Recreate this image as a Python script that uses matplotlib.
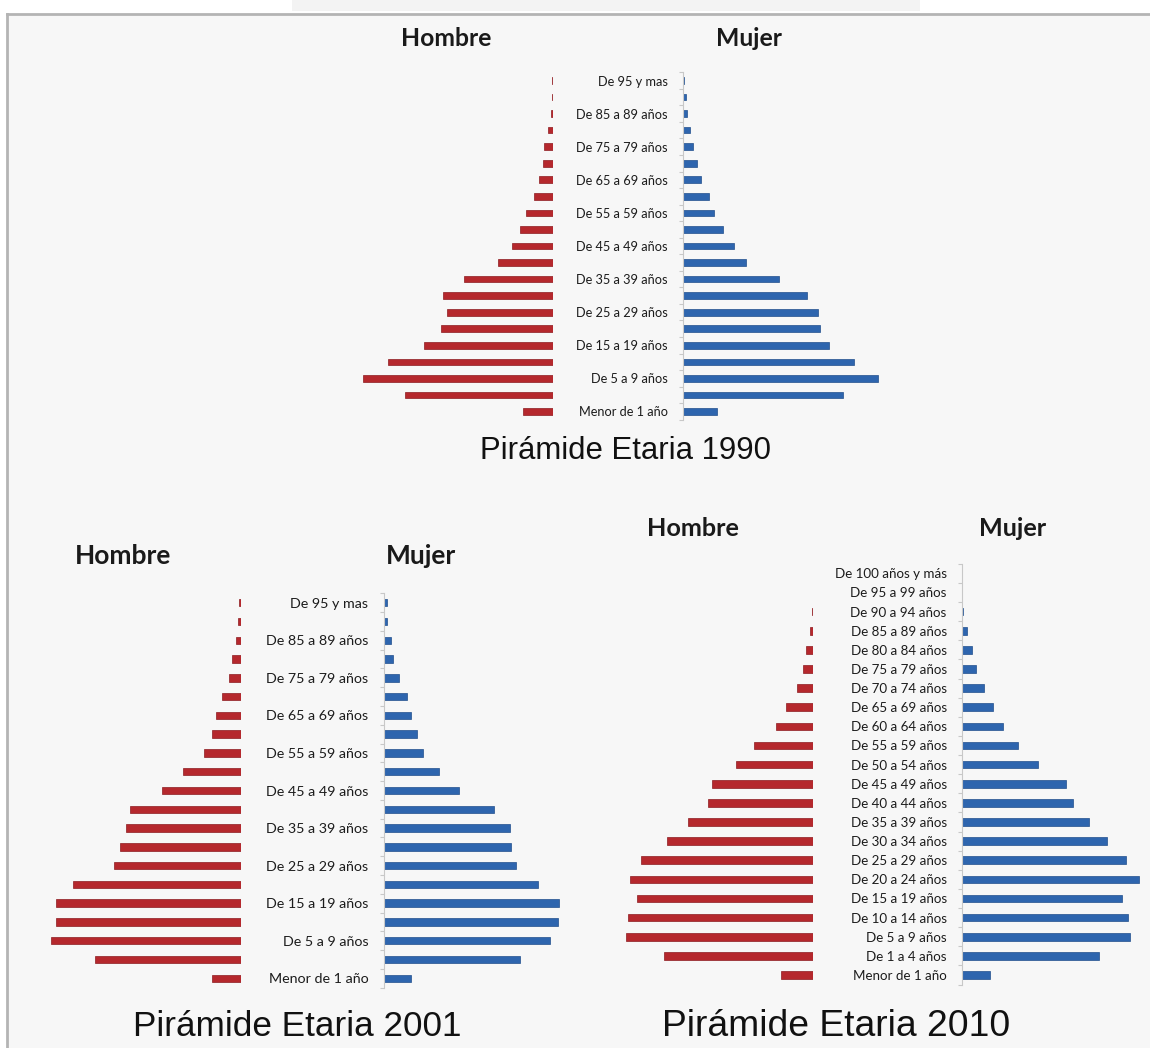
import matplotlib
matplotlib.use("Agg")
import matplotlib.pyplot as plt
from matplotlib.patches import Rectangle
from matplotlib.lines import Line2D
from matplotlib.ticker import FixedLocator
import numpy as np

# ---------------- data (bar lengths; arbitrary units) -------------
grupos_21 = ["Menor de 1 año", "De 1 a 4 años", "De 5 a 9 años", "De 10 a 14 años",
             "De 15 a 19 años", "De 20 a 24 años", "De 25 a 29 años", "De 30 a 34 años",
             "De 35 a 39 años", "De 40 a 44 años", "De 45 a 49 años", "De 50 a 54 años",
             "De 55 a 59 años", "De 60 a 64 años", "De 65 a 69 años", "De 70 a 74 años",
             "De 75 a 79 años", "De 80 a 84 años", "De 85 a 89 años", "De 90 a 94 años",
             "De 95 y mas"]
# only every second label is printed in 1990/2001 charts
grupos_22 = ["Menor de 1 año", "De 1 a 4 años", "De 5 a 9 años", "De 10 a 14 años",
             "De 15 a 19 años", "De 20 a 24 años", "De 25 a 29 años", "De 30 a 34 años",
             "De 35 a 39 años", "De 40 a 44 años", "De 45 a 49 años", "De 50 a 54 años",
             "De 55 a 59 años", "De 60 a 64 años", "De 65 a 69 años", "De 70 a 74 años",
             "De 75 a 79 años", "De 80 a 84 años", "De 85 a 89 años", "De 90 a 94 años",
             "De 95 a 99 años", "De 100 años y más"]

hombre_1990 = [30.4, 147.9, 190.0, 165.0, 128.6, 112.1, 106.1, 110.4, 88.6, 55.4, 41.4,
               32.9, 27.1, 19.3, 14.3, 10.4, 8.6, 5.4, 1.8, 0.7, 0.7]
mujer_1990 = [33.6, 159.6, 194.6, 171.4, 146.4, 137.1, 134.6, 124.3, 95.7, 63.2, 51.4,
              40.0, 31.1, 25.7, 17.9, 13.6, 9.6, 7.1, 4.3, 2.5, 0.7]

hombre_2001 = [29.3, 146.8, 190.0, 185.7, 185.7, 168.6, 127.9, 121.8, 115.0, 111.1, 79.3,
               58.6, 37.5, 29.3, 25.0, 19.3, 12.1, 9.3, 5.0, 3.2, 2.9]
mujer_2001 = [27.5, 136.1, 166.4, 174.3, 175.0, 153.9, 132.1, 127.1, 126.1, 110.7, 75.0,
              55.4, 39.3, 33.2, 27.5, 23.2, 15.4, 9.6, 7.1, 3.2, 2.9]

hombre_2010 = [31.9, 149.5, 186.7, 184.6, 176.1, 182.8, 171.9, 146.3, 124.9, 105.3, 101.4,
               77.2, 58.6, 37.5, 27.0, 16.1, 10.5, 6.7, 3.5, 1.4, 0.0, 0.0]
mujer_2010 = [28.4, 136.5, 168.1, 165.6, 160.0, 176.8, 164.2, 144.9, 127.0, 111.2, 103.9,
              76.1, 55.8, 40.7, 31.2, 21.8, 14.0, 10.2, 4.9, 1.1, 0.0, 0.0]

titulos = ["Pirámide Etaria 1990", "Pirámide Etaria 2001", "Pirámide Etaria 2010"]
sexo = ["Hombre", "Mujer"]

# ---------------- style ----------------
RED, RED_E = "#b5282d", "#8c1c20"
BLUE, BLUE_E = "#2e65ae", "#214f8c"
BG = "#f7f7f7"

W, H = 1150, 1048
fig = plt.figure(figsize=(W / 100, H / 100), dpi=100)
fig.patch.set_facecolor("white")


def rect(x0, y0, x1, y1):
    """pixel box (top-left origin) -> figure fraction [l, b, w, h]"""
    return [x0 / W, 1 - y1 / H, (x1 - x0) / W, (y1 - y0) / H]


# background panel + frame
bg = fig.add_axes([0, 0, 1, 1], zorder=-10)
bg.set_xlim(0, W)
bg.set_ylim(H, 0)
bg.axis("off")
bg.add_patch(Rectangle((7, 14), W, H, facecolor=BG, edgecolor="none"))
bg.add_patch(Rectangle((292, 0), 628, 11, facecolor="#f3f3f3", edgecolor="none"))
bg.add_line(Line2D([7, W], [13.5, 13.5], color="#b4b4b4", lw=2.0))
bg.add_line(Line2D([7, 7], [13.5, H], color="#b4b4b4", lw=2.0))


def pyramid(hombre, mujer, labels, step, male_right, axis_x, y_top, y_bot,
            width_m, width_f, fsize):
    n = len(hombre)
    sp = (y_bot - y_top) / (n - 1)
    top = y_top - sp / 2
    bot = y_bot + sp / 2
    y = np.arange(n)
    axm = fig.add_axes(rect(male_right - width_m, top, male_right, bot))
    axf = fig.add_axes(rect(axis_x, top, axis_x + width_f, bot))
    for ax in (axm, axf):
        ax.set_facecolor("none")
        ax.set_ylim(-0.5, n - 0.5)
        for s in ("top", "right", "bottom"):
            ax.spines[s].set_visible(False)
        ax.set_xticks([])
    axm.spines["left"].set_visible(False)
    axm.set_yticks([])
    axm.set_xlim(width_m, 0)
    axf.set_xlim(0, width_f)
    axm.barh(y, hombre, height=0.4, color=RED, edgecolor=RED_E, linewidth=0.5)
    axf.barh(y, mujer, height=0.4, color=BLUE, edgecolor=BLUE_E, linewidth=0.5)
    axf.spines["left"].set_color("#c8c8c8")
    axf.spines["left"].set_linewidth(0.8)
    idx = list(range(0, n, step))
    axf.set_yticks(idx)
    axf.set_yticklabels([labels[i] for i in idx], fontsize=fsize, color="#1c1c1c",
                        family="Lato")
    axf.tick_params(axis="y", which="major", length=0, pad=11)
    axf.yaxis.set_minor_locator(FixedLocator(np.arange(-0.5, n, 1.0)))
    axf.tick_params(axis="y", which="minor", length=3, color="#c8c8c8", width=0.8)
    return axm, axf


# 1990
pyramid(hombre_1990, mujer_1990, grupos_21, 2, 553, 683, 80.5, 411.5, 210, 210, 9.2)
# 2001
pyramid(hombre_2001, mujer_2001, grupos_21, 2, 241.4, 383.6, 602.7, 978.3, 210, 210, 10.3)
# 2010
pyramid(hombre_2010, mujer_2010, grupos_22, 1, 813, 962, 573.3, 975.0, 210, 186, 9.6)

# headings
hfont = dict(family="Lato", weight="bold", color="#1a1a1a", ha="center", va="center")
for (xh, xm, yy, fs) in [(446, 749, 38, 17.8), (123, 421, 556, 19.0), (693, 1013, 529, 18.2)]:
    bg.text(xh, yy, sexo[0], fontsize=fs, **hfont)
    bg.text(xm, yy, sexo[1], fontsize=fs, **hfont)

tfont = dict(family="Liberation Sans", color="#111111", ha="center", va="center")
bg.text(625, 451, titulos[0], fontsize=22.4, **tfont)
bg.text(297, 1026, titulos[1], fontsize=25.3, **tfont)
bg.text(836, 1026, titulos[2], fontsize=26.8, **tfont)

fig.savefig("out.png", dpi=100, facecolor=fig.get_facecolor())
